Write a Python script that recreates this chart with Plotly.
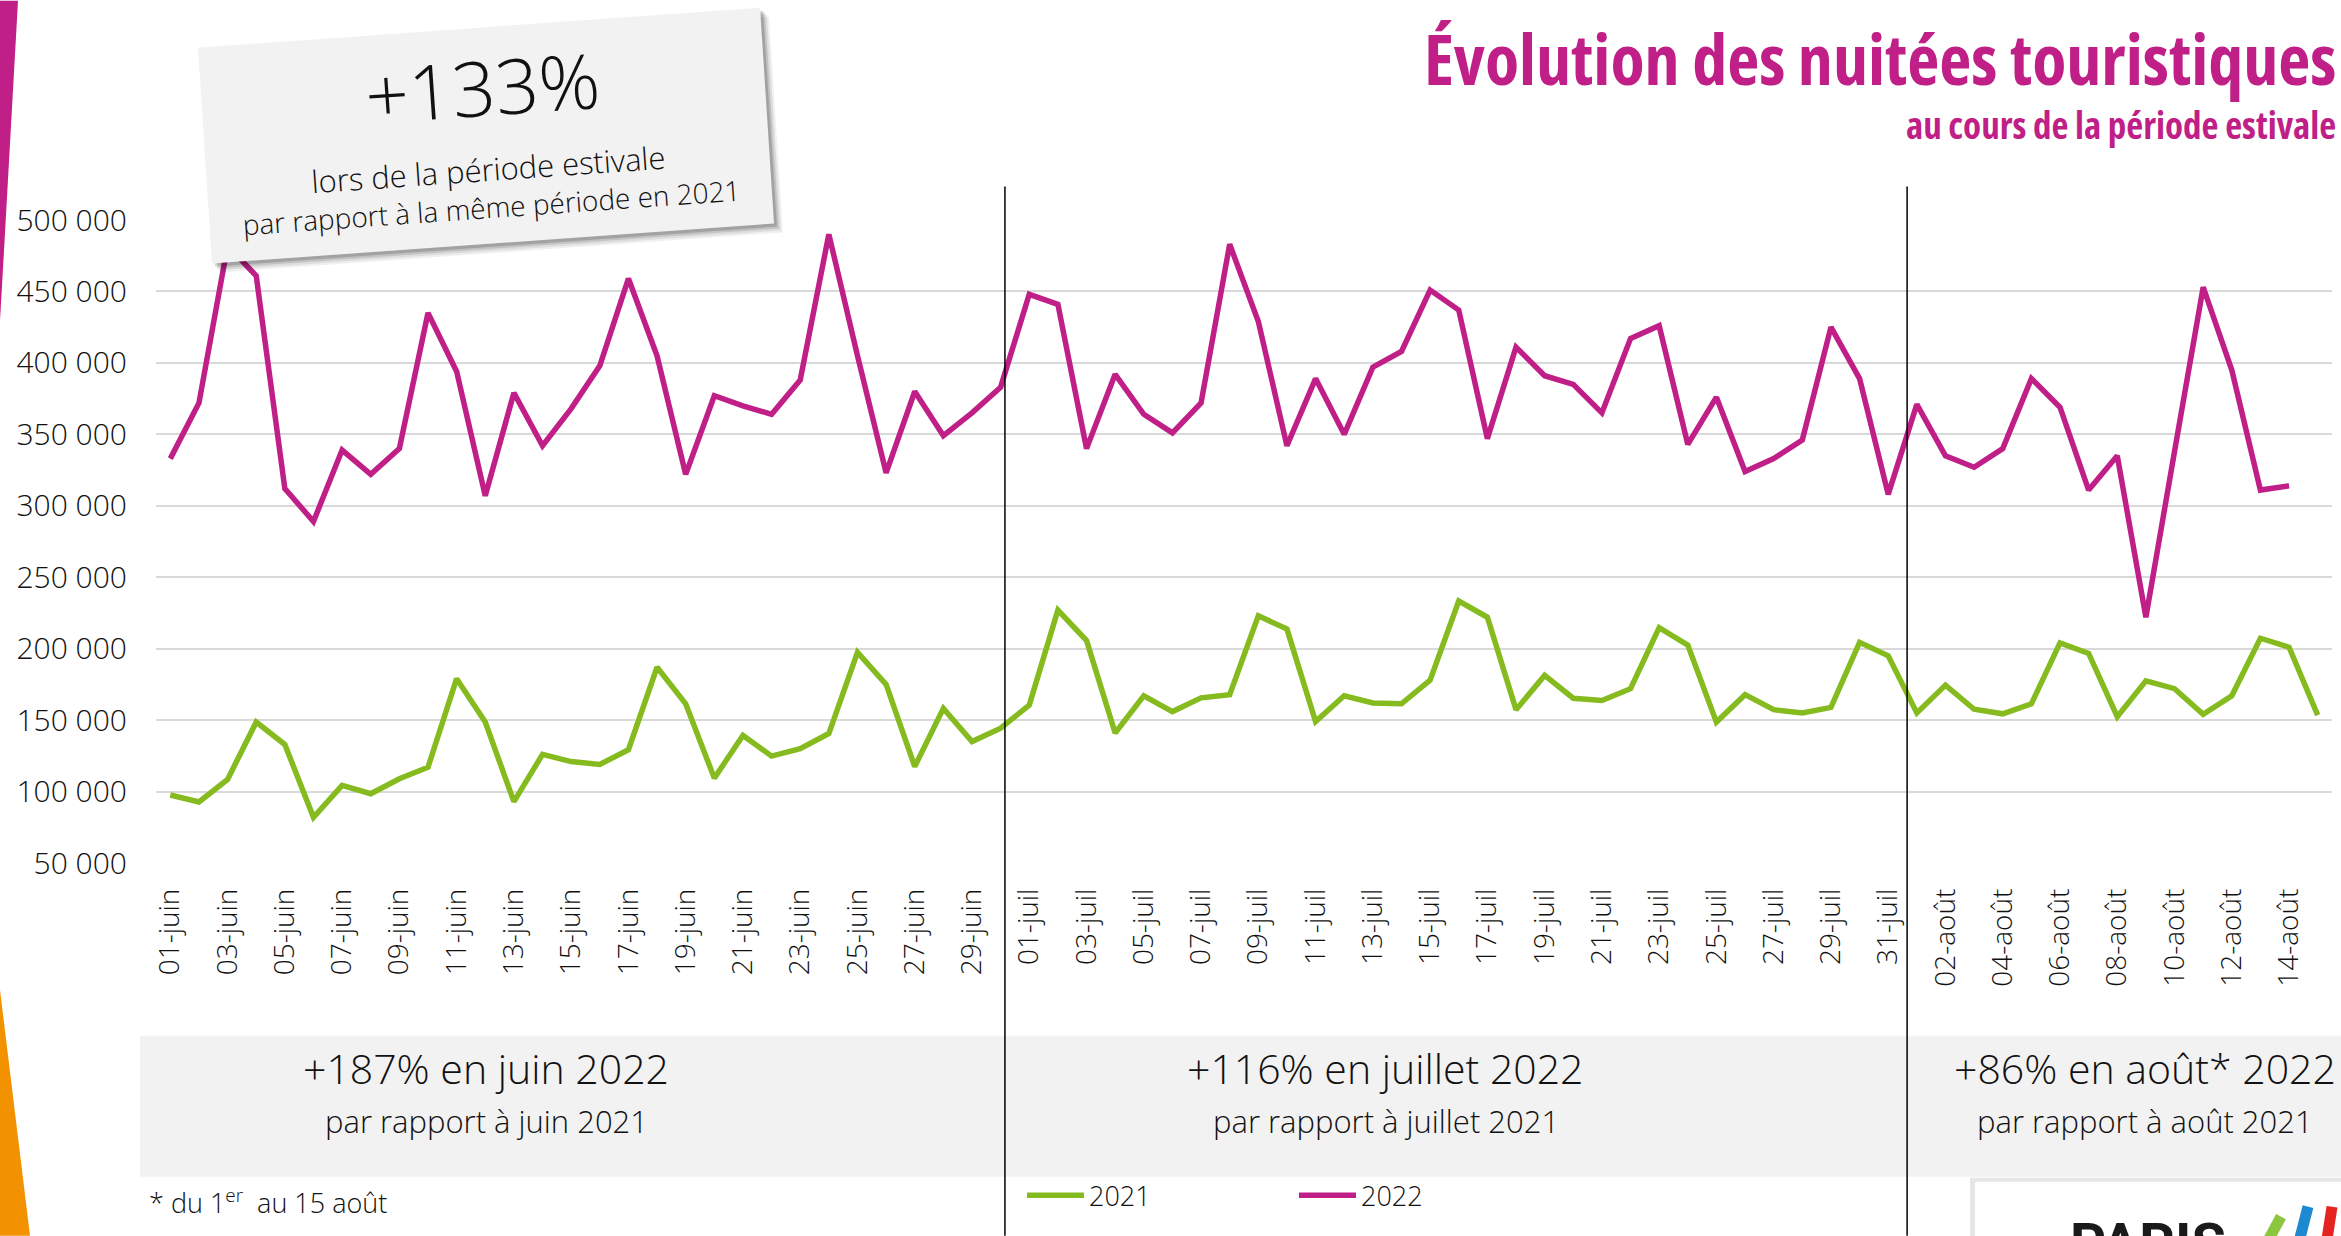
import plotly.graph_objects as go

# ---------------------------------------------------------------- data
months = [("juin", 30), ("juil", 31), ("août", 15)]
days = [f"{d:02d}-{m}" for m, n in months for d in range(1, n + 1)]

nuitees_2021 = [
    97600, 92700, 108500, 148600, 132900, 82000, 104300, 98500, 109000, 117000,
    179000, 148600, 93000, 126000, 121000, 119000, 129300, 187000, 161400, 109400,
    139300, 124800, 130000, 140600, 197400, 175000, 117500, 158200, 135000, 144300,
    160500, 227000, 205700, 141000, 167000, 156000, 165600, 167800, 223000, 213700,
    149000, 167000, 162000, 161400, 178000, 233300, 222000, 157300, 181300, 165300,
    163700, 172000, 214700, 202500, 148600, 167800, 157300, 155000, 158900, 204400,
    195000, 155000, 174500, 157600, 154400, 161400, 204000, 196700, 152400, 177500,
    172000, 154000, 167000, 207300, 201000, 153500,
]

nuitees_2022 = [
    333000, 372000, 482000, 461000, 312000, 289000, 339000, 322000, 340000, 435000,
    394000, 307000, 379000, 342000, 368000, 398000, 459000, 405000, 322000, 377000,
    370000, 364000, 388000, 490000, 405000, 323000, 380000, 349000, 365000, 383000,
    448000, 441000, 340000, 392000, 364000, 351000, 372000, 483000, 429000, 342000,
    389000, 350000, 397000, 408000, 451000, 437000, 347000, 411000, 391000, 385000,
    365000, 417000, 426000, 343000, 376000, 324000, 333000, 346000, 425000, 389000,
    308000, 371000, 335000, 327000, 340000, 389000, 369000, 311000, 335000, 222000,
    338000, 453000, 395000, 311000, 314000,
]

y_ticks = list(range(50000, 500001, 50000))
x_ticks = days[::2]

headline = "+133%"
headline_sub = ["lors de la période estivale", "par rapport à la même période en 2021"]
month_titles = ["+187% en juin 2022", "+116% en juillet 2022", "+86% en août* 2022"]
month_subs = ["par rapport à juin 2021", "par rapport à juillet 2021", "par rapport à août 2021"]

# ---------------------------------------------------------------- style
MAGENTA = "#BF1F86"
GREEN = "#85BB1E"
GRID = "#D9D9D9"
BAND = "#F2F2F2"
TEXT_FONT = "Open Sans"

W, H = 2341, 1236
ML, MR, MT, MB = 156, 9, 219.5, 373


def px(x):
    """page pixel -> paper x"""
    return (x - ML) / (W - ML - MR)


def py(y):
    """page pixel -> paper y"""
    return 1 - (y - MT) / (H - MT - MB)


def condensed_bold(txt):
    return f"<span style='font-stretch:75%'><b>{txt}</b></span>"


fig = go.Figure()
fig.add_trace(go.Scatter(x=days, y=nuitees_2021, name="2021", mode="lines",
                         line=dict(color=GREEN, width=5.5)))
fig.add_trace(go.Scatter(x=days[:len(nuitees_2022)], y=nuitees_2022, name="2022", mode="lines",
                         line=dict(color=MAGENTA, width=5.5)))

shapes = []
# decorative edge strips
shapes.append(dict(type="path", xref="paper", yref="paper", layer="above",
                   path=f"M{px(0)},{py(0)} L{px(18)},{py(0)} L{px(4)},{py(250)} L{px(0)},{py(320)} Z",
                   fillcolor=MAGENTA, line=dict(width=0)))
shapes.append(dict(type="path", xref="paper", yref="paper", layer="above",
                   path=f"M{px(0)},{py(990)} L{px(30)},{py(1236)} L{px(0)},{py(1236)} Z",
                   fillcolor="#F39200", line=dict(width=0)))

# grey band behind the monthly figures
shapes.append(dict(type="rect", xref="paper", yref="paper", layer="below",
                   x0=px(140), x1=px(W), y0=py(1036), y1=py(1177),
                   fillcolor=BAND, line=dict(width=0)))

# month separators
for xv in (29.15, 60.66):
    shapes.append(dict(type="line", xref="x", yref="paper", x0=xv, x1=xv,
                       y0=py(186), y1=py(H), line=dict(color="#000000", width=1.5),
                       layer="above"))

# tilted card for the headline, with a soft shadow
corners = [(198, 47), (760, 7), (774, 223), (212, 263)]


def card_path(dx=0, dy=0):
    pts = [f"{px(x + dx)},{py(y + dy)}" for x, y in corners]
    return "M" + " L".join(pts) + " Z"


for dx, dy, op in [(9, 9, 0.06), (7, 7, 0.08), (5, 5, 0.12), (3, 3, 0.16)]:
    shapes.append(dict(type="path", xref="paper", yref="paper", layer="above",
                       path=card_path(dx, dy), fillcolor=f"rgba(0,0,0,{op})",
                       line=dict(width=0)))
shapes.append(dict(type="path", xref="paper", yref="paper", layer="above",
                   path=card_path(), fillcolor=BAND, line=dict(width=0)))

# logo card at the bottom right
shapes.append(dict(type="rect", xref="paper", yref="paper", layer="above",
                   x0=px(1970), x1=px(W + 5), y0=py(1178), y1=py(H + 10),
                   fillcolor="#E6E6E6", line=dict(width=0)))
shapes.append(dict(type="rect", xref="paper", yref="paper", layer="above",
                   x0=px(1975), x1=px(W + 5), y0=py(1182), y1=py(H + 10),
                   fillcolor="#FFFFFF", line=dict(width=0)))
for (x0, y0, x1, y1, c) in [(2262, 1252, 2281, 1217, "#8CC63F"),
                             (2298, 1246, 2308, 1207, "#1E88D0"),
                             (2326, 1246, 2332, 1207, "#E52421")]:
    shapes.append(dict(type="line", xref="paper", yref="paper", layer="above",
                       x0=px(x0), y0=py(y0), x1=px(x1), y1=py(y1),
                       line=dict(color=c, width=11)))

annotations = []
# title block
annotations.append(dict(xref="paper", yref="paper", x=px(2338), y=py(57), xanchor="right",
                        yanchor="middle", showarrow=False,
                        text=condensed_bold("Évolution des nuitées touristiques"),
                        font=dict(family=TEXT_FONT, size=70, color=MAGENTA)))
annotations.append(dict(xref="paper", yref="paper", x=px(2338), y=py(124), xanchor="right",
                        yanchor="middle", showarrow=False,
                        text=condensed_bold("au cours de la période estivale"),
                        font=dict(family=TEXT_FONT, size=37, color=MAGENTA)))

# headline card text
for txt, (cx, cy), size in [(headline, (482, 86), 76),
                            (headline_sub[0], (488, 168), 31),
                            (headline_sub[1], (491, 206), 28)]:
    annotations.append(dict(xref="paper", yref="paper", x=px(cx), y=py(cy), xanchor="center",
                            yanchor="middle", showarrow=False, text=txt, textangle=-4,
                            font=dict(family=TEXT_FONT, size=size, color="#111111", weight=300)))

# monthly figures in the band
for txt, cx in zip(month_titles, (486, 1385, 2145)):
    annotations.append(dict(xref="paper", yref="paper", x=px(cx), y=py(1068), xanchor="center",
                            yanchor="middle", showarrow=False, text=txt,
                            font=dict(family=TEXT_FONT, size=41, color="#111111", weight=300)))
for sub, cx in zip(month_subs, (486, 1386, 2145)):
    annotations.append(dict(xref="paper", yref="paper", x=px(cx), y=py(1121), xanchor="center",
                            yanchor="middle", showarrow=False, text=sub,
                            font=dict(family=TEXT_FONT, size=31, color="#111111", weight=300)))

# footnote
annotations.append(dict(xref="paper", yref="paper", x=px(147), y=py(1202), xanchor="left",
                        yanchor="middle", showarrow=False, text="* du 1<sup>er</sup>  au 15 août",
                        font=dict(family=TEXT_FONT, size=27, color="#111111", weight=300)))

# logo lettering
annotations.append(dict(xref="paper", yref="paper", x=px(2148), y=py(1209), xanchor="center",
                        yanchor="top", showarrow=False, text="<b>PARIS</b>",
                        font=dict(family="Roboto, Liberation Sans, sans-serif", size=56, color="#1A1A1A")))

fig.update_layout(
    width=W, height=H,
    margin=dict(l=ML, r=MR, t=MT, b=MB, pad=0),
    paper_bgcolor="white", plot_bgcolor="white",
    separators=", ",
    font=dict(family=TEXT_FONT, size=28, color="#111111", weight=300),
    showlegend=True,
    legend=dict(orientation="h", x=px(1022), y=py(1196), xanchor="left", yanchor="middle",
                font=dict(family=TEXT_FONT, size=27, color="#111111", weight=300),
                itemwidth=57, entrywidth=200, entrywidthmode="pixels",
                bgcolor="rgba(0,0,0,0)", traceorder="normal"),
    shapes=shapes,
    annotations=annotations,
    xaxis=dict(type="category", categoryorder="array", categoryarray=days,
               range=[-0.5, len(days) - 0.5], tickmode="array", tickvals=x_ticks,
               ticktext=x_ticks, tickangle=-90, showgrid=False, zeroline=False,
               showline=False, ticks="", ticklabelstandoff=19,
               tickfont=dict(family=TEXT_FONT, size=28, color="#111111", weight=300)),
    yaxis=dict(range=[50000, 500000], tickmode="array", tickvals=y_ticks,
               tickformat=",d", showgrid=True, gridcolor=GRID, gridwidth=2,
               zeroline=False, showline=False, ticks="", ticklabelstandoff=28,
               tickfont=dict(family=TEXT_FONT, size=30, color="#111111", weight=300)),
)

fig.write_html("out.html")
